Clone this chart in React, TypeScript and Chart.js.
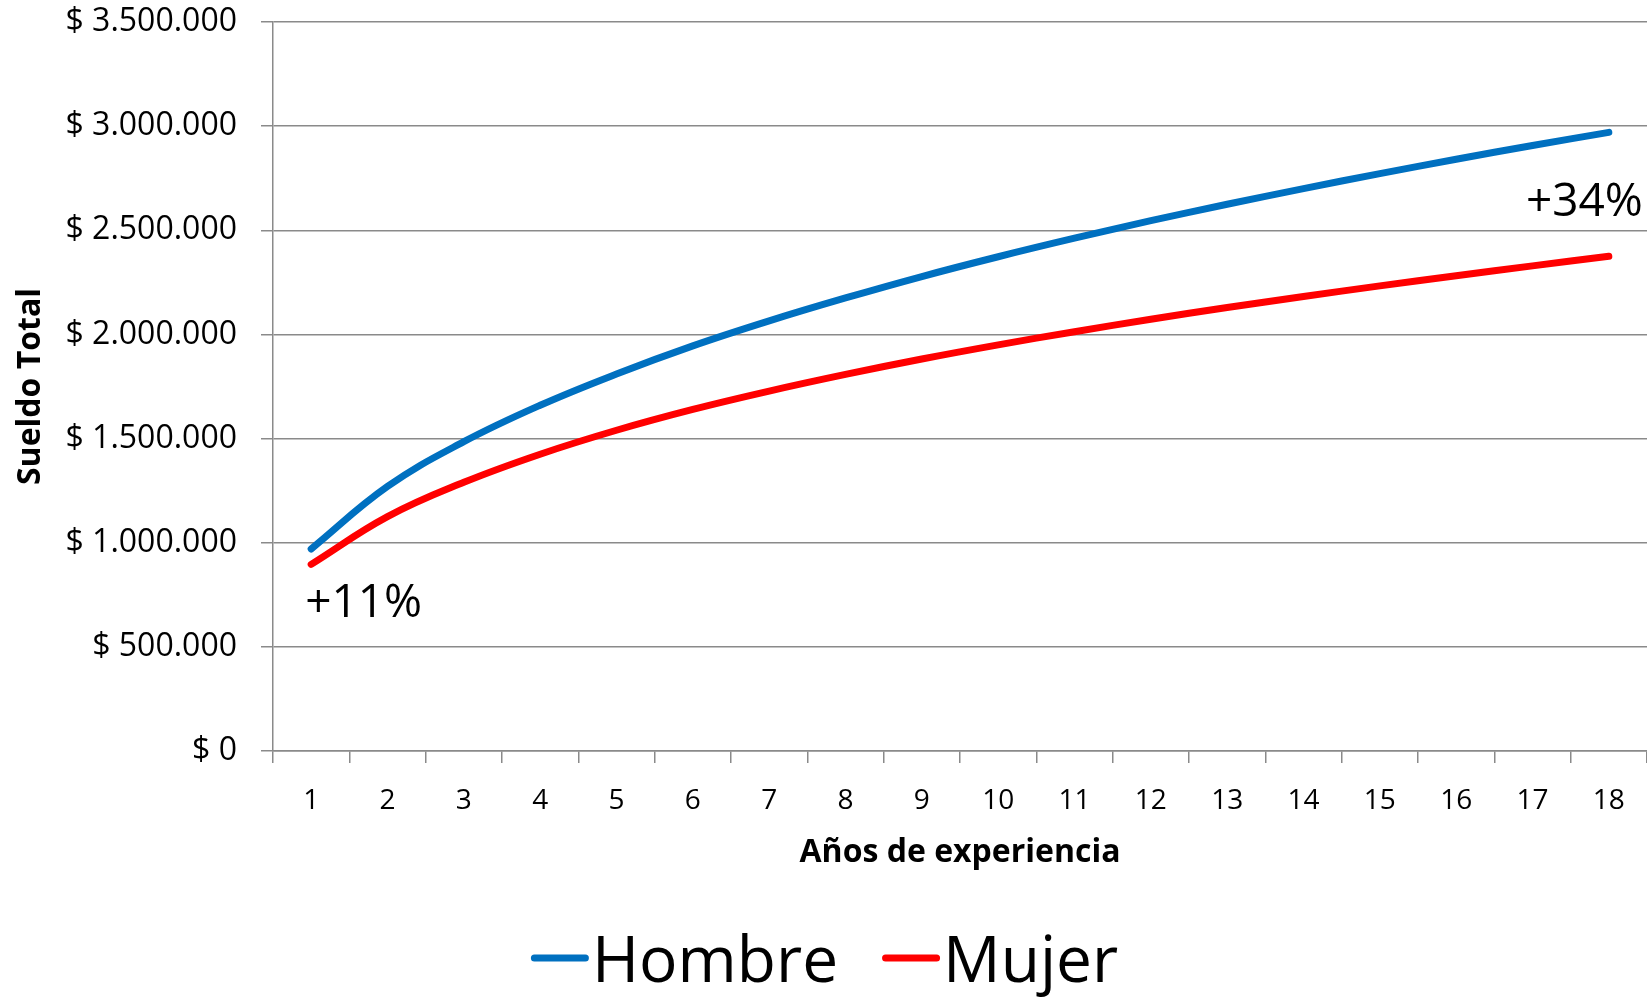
import React, { useEffect, useRef } from "react";
import { Chart, registerables } from "chart.js";

Chart.register(...registerables);

const years = ["1", "2", "3", "4", "5", "6", "7", "8", "9", "10", "11", "12", "13", "14", "15", "16", "17", "18"];
const hombre = [970000, 1270000, 1485000, 1660000, 1810000, 1945000, 2065000, 2175000, 2278000, 2373000, 2462000, 2546000, 2625000, 2700000, 2772000, 2841000, 2907000, 2970000];
const mujer = [896000, 1125000, 1290000, 1425000, 1540000, 1640000, 1728000, 1808000, 1882000, 1950000, 2013000, 2073000, 2129000, 2182000, 2233000, 2282000, 2329000, 2375000];
const yMin = 0;
const yMax = 3500000;
const yStep = 500000;
const annotTexts = ["+11%", "+34%"];
const annotIndex = [0, 17];
const annotValue = [642000, 2570000];

const FONT = '"Open Sans", "Noto Sans", sans-serif';
const GRID = "#8a8a8a";

function fmtMoney(v: number): string {
  return "$ " + String(Math.round(v)).replace(/\B(?=(\d{3})+(?!\d))/g, ".");
}

const annotationPlugin = {
  id: "pctAnnotations",
  afterDatasetsDraw(chart: any) {
    const { ctx, scales } = chart;
    ctx.save();
    ctx.font = `46px ${FONT}`;
    ctx.fillStyle = "#000";
    ctx.textBaseline = "alphabetic";
    annotTexts.forEach((t, i) => {
      const x = scales.x.getPixelForValue(annotIndex[i]);
      const y = scales.y.getPixelForValue(annotValue[i]);
      if (i === 0) {
        ctx.textAlign = "left";
        ctx.fillText(t, x - 6, y);
      } else {
        ctx.textAlign = "right";
        ctx.fillText(t, x + 34, y);
      }
    });
    ctx.restore();
  },
};

const legendPlugin = {
  id: "bigLegend",
  afterDraw(chart: any) {
    const { ctx } = chart;
    ctx.save();
    ctx.font = `64px ${FONT}`;
    const lineW = 58;
    const gap = 3;
    const between = 44;
    const items = chart.data.datasets.map((d: any) => ({
      label: d.label,
      color: d.borderColor,
      w: ctx.measureText(d.label).width,
    }));
    const total =
      items.reduce((s: number, it: any) => s + lineW + gap + it.w, 0) + between * (items.length - 1);
    let x = chart.width / 2 + 1 - total / 2;
    const yLine = 958;
    const yText = 982;
    items.forEach((it: any) => {
      ctx.strokeStyle = it.color;
      ctx.lineWidth = 7;
      ctx.lineCap = "round";
      ctx.beginPath();
      ctx.moveTo(x + 3.5, yLine);
      ctx.lineTo(x + lineW - 3.5, yLine);
      ctx.stroke();
      x += lineW + gap;
      ctx.fillStyle = "#000";
      ctx.textAlign = "left";
      ctx.textBaseline = "alphabetic";
      ctx.fillText(it.label, x, yText);
      x += it.w + between;
    });
    ctx.restore();
  },
};

export default function App() {
  const canvasRef = useRef<HTMLCanvasElement | null>(null);

  useEffect(() => {
    if (!canvasRef.current) return;
    const chart = new Chart(canvasRef.current, {
      type: "line",
      data: {
        labels: years,
        datasets: [
          {
            label: "Hombre",
            data: hombre,
            borderColor: "#0070C0",
            backgroundColor: "#0070C0",
            borderWidth: 7,
            borderCapStyle: "round",
            borderJoinStyle: "round",
            pointRadius: 0,
            tension: 0.4,
            fill: false,
          },
          {
            label: "Mujer",
            data: mujer,
            borderColor: "#FF0000",
            backgroundColor: "#FF0000",
            borderWidth: 7,
            borderCapStyle: "round",
            borderJoinStyle: "round",
            pointRadius: 0,
            tension: 0.4,
            fill: false,
          },
        ],
      },
      options: {
        animation: false,
        responsive: false,
        maintainAspectRatio: false,
        layout: { padding: { top: 22, left: 0, right: 0, bottom: 125 } },
        plugins: {
          legend: { display: false },
          tooltip: { enabled: false },
          title: { display: false },
        },
        scales: {
          x: {
            type: "category",
            offset: true,
            grid: {
              offset: true,
              drawOnChartArea: false,
              drawTicks: true,
              tickLength: 12,
              color: GRID,
              lineWidth: 1.5,
            },
            border: { display: true, color: GRID, width: 1.5 },
            ticks: {
              color: "#000",
              font: { family: FONT, size: 28 },
              padding: 21,
              maxRotation: 0,
              autoSkip: false,
            },
            title: {
              display: true,
              text: "Años de experiencia",
              color: "#000",
              font: { family: FONT, size: 32, weight: "bold" },
              padding: { top: 0, bottom: 0 },
            },
            afterFit: (s: any) => {
              s.height = 121;
              s.paddingLeft = 0;
              s.paddingRight = 0;
            },
          },
          y: {
            min: yMin,
            max: yMax,
            grid: {
              drawTicks: true,
              tickLength: 12,
              color: GRID,
              lineWidth: 1.5,
            },
            border: { display: true, color: GRID, width: 1.5 },
            ticks: {
              stepSize: yStep,
              color: "#000",
              font: { family: FONT, size: 32 },
              padding: 24,
              callback: (v: any) => fmtMoney(Number(v)),
            },
            title: {
              display: true,
              text: "Sueldo Total",
              color: "#000",
              font: { family: FONT, size: 32, weight: "bold" },
              padding: { top: 12, bottom: 0 },
            },
            afterFit: (s: any) => {
              s.width = 273;
              s.paddingTop = 0;
              s.paddingBottom = 0;
            },
          },
        },
      },
      plugins: [annotationPlugin, legendPlugin],
    } as any);
    return () => chart.destroy();
  }, []);

  return (
    <div style={{ position: "fixed", left: 0, top: 0, width: 1647, height: 997, background: "#fff" }}>
      <canvas ref={canvasRef} width={1647} height={997} style={{ width: 1647, height: 997, display: "block" }} />
    </div>
  );
}
